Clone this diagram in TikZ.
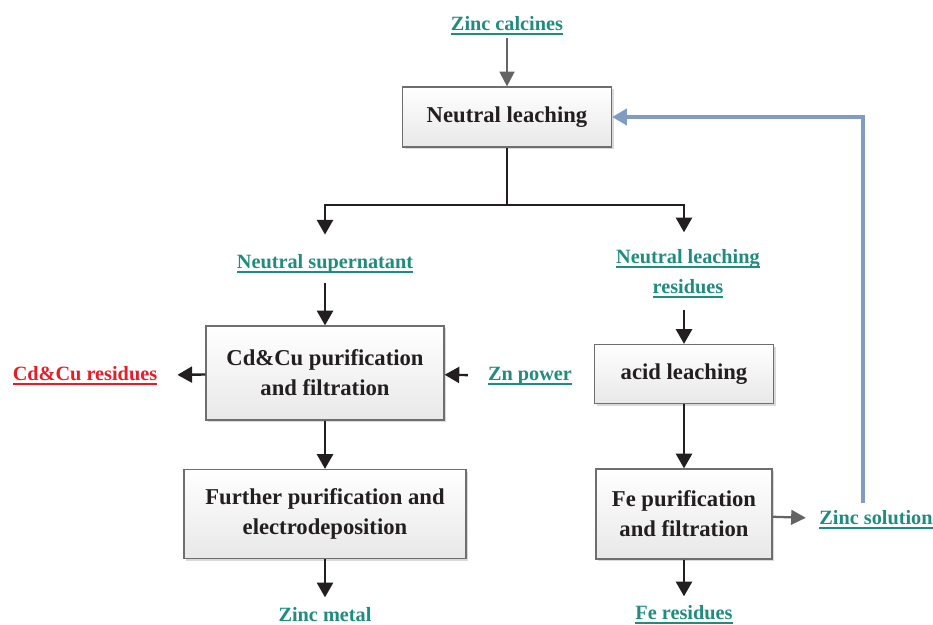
\documentclass[tikz,border=0pt]{standalone}
\usepackage{fontspec}
\setmainfont{Liberation Serif}
\usetikzlibrary{arrows.meta,shadows}
\definecolor{tealc}{RGB}{32,140,126}
\definecolor{redc}{RGB}{232,28,36}
\definecolor{txtc}{RGB}{35,31,32}
\definecolor{boxc}{RGB}{110,110,110}
\definecolor{grayc}{RGB}{100,100,100}
\definecolor{bluec}{RGB}{128,156,192}
\newcommand\ultext[1]{\setbox0=\hbox{#1}\dp0=0pt\leavevmode\vtop{\copy0\kern1.6pt\hrule height 1.5pt width \wd0}}
\begin{document}
\begin{tikzpicture}[x=0.75pt,y=-0.75pt,
  box/.style={draw=boxc, line width=0.9pt, top color=white, bottom color=black!9,
    drop shadow={shadow xshift=1.5pt, shadow yshift=-1.5pt, fill=black!25, opacity=0.6},
    align=center, inner sep=0pt, font=\fontsize{17}{22.5}\selectfont\bfseries, text=txtc},
  lab/.style={align=center, inner sep=0pt, font=\fontsize{15.2}{22.5}\selectfont\bfseries, text=tealc},
  redlab/.style={lab, text=redc},
  ln/.style={line width=1.8pt, draw=txtc},
  arr/.style={ln, -{Triangle[width=12pt,length=11pt]}},
  garr/.style={line width=1.7pt, draw=grayc, -{Triangle[width=11pt,length=11pt]}},
  barr/.style={line width=2.6pt, draw=bluec, -{Triangle[width=12pt,length=11pt]}}
]
\useasboundingbox (0,0) rectangle (933,625);

% boxes
\node[box, minimum width=156.75pt, minimum height=45pt] (nl) at (507,117) {Neutral leaching};
\node[box, minimum width=178.5pt, minimum height=70.5pt] (cd) at (325,373) {Cd\&Cu purification\\and filtration};
\node[box, minimum width=211.5pt, minimum height=66.75pt] (fu) at (325,514) {Further purification and\\electrodeposition};
\node[box, minimum width=134.25pt, minimum height=44.25pt] (ac) at (684,374) {acid leaching};
\node[box, minimum width=132pt, minimum height=67.5pt] (fe) at (684,514) {Fe purification\\and filtration};

% labels
\node[lab] (zc) at (507,26) {\ultext{Zinc calcines}};
\node[lab] (ns) at (325,264) {\ultext{Neutral supernatant}};
\node[lab] (nlr) at (688,274) {\ultext{Neutral leaching}\\\ultext{residues}};
\node[redlab] (cdr) at (85,376) {\ultext{Cd\&Cu residues}};
\node[lab] (zn) at (530,376) {\ultext{Zn power}};
\node[lab] (zs) at (876,520) {\ultext{Zinc solution}};
\node[lab, anchor=base] (zm) at (325,621) {Zinc metal};
\node[lab] (fer) at (684,615) {\ultext{Fe residues}};

% connectors
\coordinate (j) at (507,205);
\draw[garr, shorten <=2pt] (zc) -- (nl);
\draw[ln] (nl) -- (j);
\draw[arr, shorten >=15pt] (j) -| (ns);
\draw[arr, shorten >=13pt] (j) -| ([xshift=-3pt]nlr.north);
\draw[arr, shorten <=7pt] (ns) -- (cd);
\draw[arr, shorten >=15pt] (cd) -- (cdr);
\draw[arr, shorten <=15pt] (zn) -- (cd);
\draw[arr] (cd) -- (fu);
\draw[arr, shorten >=7pt] (fu) -- (zm);
\draw[arr, shorten <=9pt] ([xshift=-3pt]nlr.south) -- (ac);
\draw[arr] (ac) -- (fe);
\draw[arr, shorten >=7pt] (fe) -- (fer);
\draw[garr, shorten >=10pt] (fe) -- (zs);
\draw[barr, shorten <=6pt] ([xshift=-9.75pt]zs.north) |- (nl);
\end{tikzpicture}
\end{document}
